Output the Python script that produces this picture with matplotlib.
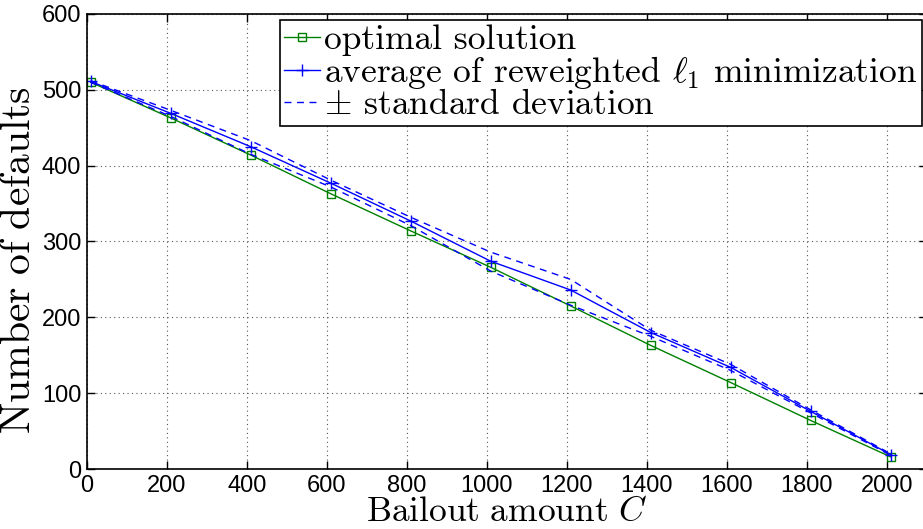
import numpy as np
import matplotlib
matplotlib.use('Agg')
import matplotlib.pyplot as plt

# bailout amounts and number of defaults
bailout = [10, 210, 410, 610, 810, 1010, 1210, 1410, 1610, 1810, 2010]
optimal = [510, 463, 414, 363, 314, 266, 215, 163, 114, 64, 16]
average = [511, 469, 425, 377, 327, 274, 236, 180, 134, 76, 19]
upper = [512, 473, 433, 381, 332, 286, 250, 183, 138, 78, 20]
lower = [510, 465, 415, 372, 321, 261, 216, 175, 130, 74, 18]

xticks = [0, 200, 400, 600, 800, 1000, 1200, 1400, 1600, 1800, 2000]
yticks = [0, 100, 200, 300, 400, 500, 600]

plt.rcParams['mathtext.fontset'] = 'cm'
plt.rcParams['font.family'] = ['Liberation Sans', 'DejaVu Sans']

W, H = 923, 529
fig = plt.figure(figsize=(W / 100.0, H / 100.0), dpi=100)
left, right, top, bottom = 86.7, 926.7, 14, 469
ax = fig.add_axes([left / W, 1 - bottom / H, (right - left) / W, (bottom - top) / H])

ax.plot(bailout, optimal, color='#008000', lw=1, marker='s', ms=6,
        mfc='none', mec='#008000', mew=1, label='optimal solution')
ax.plot(bailout, average, color='blue', lw=1, marker='+', ms=9, mew=1,
        label=r'average of reweighted $\ell_1$ minimization')
ax.plot(bailout, upper, color='blue', lw=1, ls=(0, (5, 4)),
        label=r'$\pm$ standard deviation')
ax.plot(bailout, lower, color='blue', lw=1, ls=(0, (5, 4)))

ax.set_xlim(0, 2100)
ax.set_ylim(0, 600)
ax.set_xticks(xticks)
ax.set_yticks(yticks)
ax.tick_params(direction='in', length=6, width=1, labelsize=17,
               top=True, right=True, pad=4)
ax.grid(True, ls=(0, (1, 3)), color='#555555', lw=0.8)
for s in ax.spines.values():
    s.set_linewidth(1.2)

ax.set_xlabel(r'$\mathrm{Bailout\ amount\ }C$', fontsize=25.5, labelpad=-1)
ax.set_ylabel(r'$\mathrm{Number\ of\ defaults}$', fontsize=30)
ax.yaxis.set_label_coords(-48.0 / (right - left), 0.46)

leg = ax.legend(loc='upper right', bbox_to_anchor=(921.5 / W, 1 - 20 / H),
                bbox_transform=fig.transFigure, fontsize=25.5, frameon=True,
                fancybox=False, edgecolor='black', framealpha=1,
                handlelength=1.0, handletextpad=0.12, borderpad=0.12,
                labelspacing=-0.05, borderaxespad=0)
leg.get_frame().set_linewidth(1.2)
for t in leg.get_texts():
    t.set_fontfamily('cmr10')

fig.savefig('out.png', dpi=100)
